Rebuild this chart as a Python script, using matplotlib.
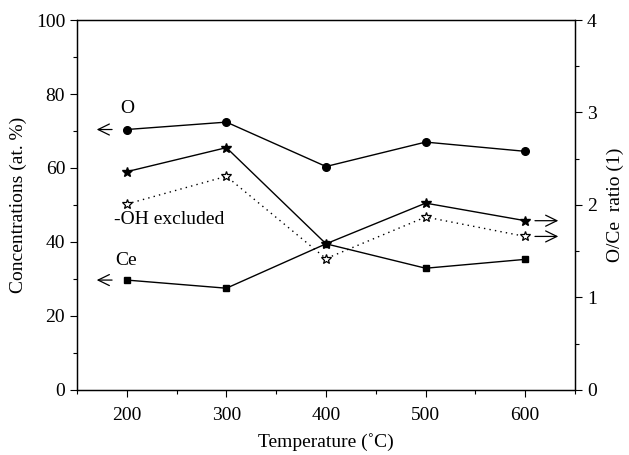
import matplotlib
matplotlib.use("Agg")
import matplotlib.pyplot as plt

plt.rcParams['font.family'] = ['Liberation Serif', 'DejaVu Serif']
plt.rcParams['font.size'] = 14

# annealing temperatures (deg C)
temperature = [200, 300, 400, 500, 600]
# surface concentrations, at. %
oxygen = [70.4, 72.4, 60.4, 67.0, 64.5]
cerium = [29.7, 27.5, 39.5, 32.9, 35.3]
# O/Ce ratio, all oxygen and with -OH excluded
ratio_all = [2.36, 2.62, 1.58, 2.02, 1.83]
ratio_no_oh = [2.01, 2.31, 1.42, 1.87, 1.66]

fig = plt.figure(figsize=(6.29, 4.55), dpi=100)
ax = fig.add_axes([0.1224, 0.143, 0.7918, 0.813])
ax2 = ax.twinx()

ax.plot(temperature, oxygen, color='black', lw=1, marker='o', ms=5.5)
ax.plot(temperature, cerium, color='black', lw=1, marker='s', ms=4.5)
ax2.plot(temperature, ratio_all, color='black', lw=1, marker='*', ms=7)
ax2.plot(temperature, ratio_no_oh, color='black', lw=1, ls=(0, (1, 3)),
         marker='*', ms=7.5, mfc='white', mec='black', mew=0.9)

ax.set_xlim(150, 650)
ax.set_ylim(0, 100)
ax2.set_ylim(0, 4)
ax.set_xticks([200, 300, 400, 500, 600])
ax.set_xticks([150, 250, 350, 450, 550, 650], minor=True)
ax.set_yticks([0, 20, 40, 60, 80, 100])
ax.set_yticks([10, 30, 50, 70, 90], minor=True)
ax2.set_yticks([0, 1, 2, 3, 4])
ax2.set_yticks([0.5, 1.5, 2.5, 3.5], minor=True)

for a in (ax, ax2):
    a.tick_params(which='major', direction='out', length=5, width=0.8, labelsize=14)
    a.tick_params(which='minor', direction='out', length=3, width=0.8)
    for s in a.spines.values():
        s.set_linewidth(0.9)
ax.tick_params(axis='x', which='major', pad=7)

ax.set_xlabel('Temperature (˚C)', fontsize=14, labelpad=7)
ax.set_ylabel('Concentrations (at. %)', fontsize=14, labelpad=6)
ax2.set_ylabel('O/Ce  ratio (1)', fontsize=14, labelpad=7)

# arrows telling which axis each series belongs to
arrow = dict(arrowstyle='->,head_length=0.45,head_width=0.22', color='black',
             lw=0.9, mutation_scale=18)
ax.annotate('', xy=(167, oxygen[0]), xytext=(188, oxygen[0]), arrowprops=arrow)
ax.annotate('', xy=(167, cerium[0]), xytext=(188, cerium[0]), arrowprops=arrow)
ax2.annotate('', xy=(636, ratio_all[-1]), xytext=(607, ratio_all[-1]), arrowprops=arrow)
ax2.annotate('', xy=(636, ratio_no_oh[-1]), xytext=(607, ratio_no_oh[-1]), arrowprops=arrow)

ax.text(200, 76, 'O', fontsize=14, ha='center', va='center')
ax.text(199, 35, 'Ce', fontsize=14, ha='center', va='center')
ax.text(187, 46, '-OH excluded', fontsize=14, ha='left', va='center')

fig.savefig('out.png', dpi=100)
